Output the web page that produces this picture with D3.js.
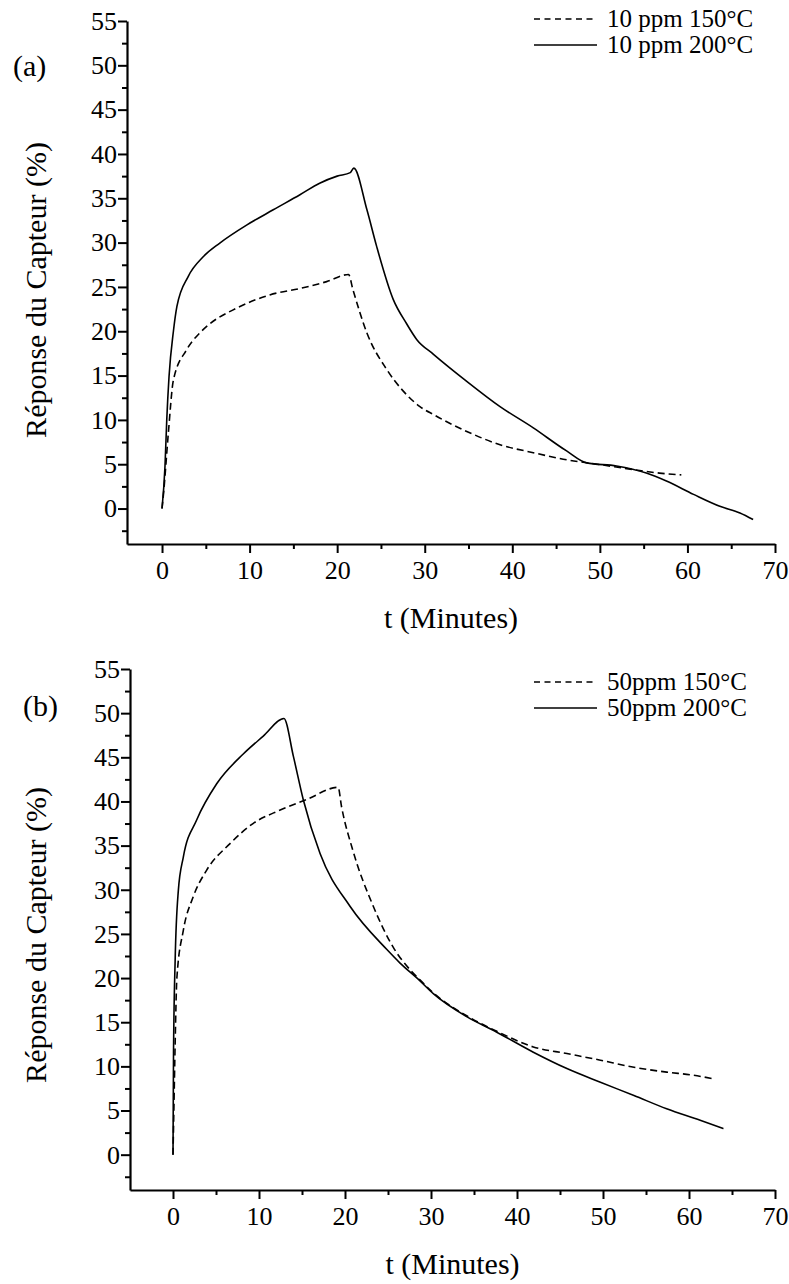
<!DOCTYPE html>
<html><head><meta charset="utf-8">
<script src="https://cdn.jsdelivr.net/npm/d3@7"></script>
<style>
body{margin:0;background:#fff;}
text{font-family:"Liberation Serif","Times New Roman",serif;fill:#000;}
</style></head>
<body><svg id="c" width="789" height="1284"></svg>
<script>
// ---- Panel (a): 10 ppm ----
const tA150 = [0,0.2,0.72,1.3,2.8,4.3,5.1,8.5,12.3,16.1,18.8,21.3,21.8,23.4,25.65,27.5,29.45,31.0,34.8,38.6,42.4,46.2,50.0,53.8,56.8,59.3];
const yA150 = [0,2,8.5,14.5,17.9,19.8,20.55,22.6,24.1,24.9,25.6,26.4,24.7,19.8,15.7,13.3,11.5,10.6,8.7,7.2,6.3,5.5,4.96,4.4,4.0,3.8];
const tA200 = [0,0.34,0.54,0.8,1.3,1.7,3.0,4.7,6.6,9.7,12.7,15.75,18.0,20.0,21.5,21.9,23.4,24.5,26.4,27.9,29.1,31.0,34.8,38.6,42.4,46.2,48.5,51.9,55.3,57.6,60.7,63.7,66.0,67.5];
const yA200 = [0,4.8,10,14.9,20,22.8,26.2,28.4,29.95,32.0,33.7,35.4,36.7,37.5,37.9,38.4,33.7,29.6,23.6,20.9,19.05,17.4,14.35,11.5,9.1,6.5,5.15,4.8,4.0,3.1,1.6,0.26,-0.5,-1.24];
// ---- Panel (b): 50 ppm ----
const tB150 = [0,0.1,0.25,0.45,1.2,2.35,3.9,6.6,9.3,12.4,15.5,19.2,19.6,20.9,23.3,25.6,27.6,28.6,30.3,34.2,37.6,41.9,45.8,49.7,53.6,57.4,60.5,62.8];
const yB150 = [0,5,12.6,20,25.4,29.2,32.2,35.2,37.5,39.0,40.2,41.6,39.4,34.5,28.1,23.5,20.9,19.9,18.3,15.7,14.0,12.2,11.45,10.7,9.9,9.35,9.0,8.6];
const tB200 = [0,0.06,0.25,0.62,1.2,2.75,5.08,8.2,10.5,12.9,14.0,15.15,17.1,20.6,24.9,26.4,28.6,30.3,34.2,37.6,41.9,45.8,49.7,53.6,57.4,61.3,64.0];
const yB200 = [0,11.5,22,29.9,33.7,37.9,42.0,45.4,47.4,49.4,45.1,40.2,34.1,28.1,23.2,21.7,19.8,18.2,15.6,13.9,11.6,9.75,8.2,6.7,5.2,3.9,2.95];

const yMajor = [0,5,10,15,20,25,30,35,40,45,50,55];
const yMinor = [-2.5,2.5,7.5,12.5,17.5,22.5,27.5,32.5,37.5,42.5,47.5,52.5];
const xMajor = [0,10,20,30,40,50,60,70];
const xMinor = [5,15,25,35,45,55,65];
const legendA = ["10 ppm 150°C","10 ppm 200°C"];
const legendB = ["50ppm 150°C","50ppm 200°C"];
const yTitle = "Réponse du Capteur (%)";
const xTitle = "t (Minutes)";
const FONT = '"Liberation Serif","Times New Roman",serif';

const svg = d3.select("#c");

function panel(cfg){
  const g = svg.append("g").style("font-family", FONT);
  const x = d3.scaleLinear().domain(cfg.xdom).range([cfg.x0, cfg.x1]);
  const y = d3.scaleLinear().domain([-4,55]).range([cfg.yb, cfg.yt]);
  // minor ticks
  g.append("g").attr("transform",`translate(0,${cfg.yb})`)
    .call(d3.axisBottom(x).tickValues(xMinor).tickSize(5).tickSizeOuter(0).tickFormat(""))
    .call(s=>{s.select(".domain").remove(); s.selectAll("line").attr("stroke-width",2);});
  g.append("g").attr("transform",`translate(${cfg.x0},0)`)
    .call(d3.axisLeft(y).tickValues(yMinor).tickSize(5).tickSizeOuter(0).tickFormat(""))
    .call(s=>{s.select(".domain").remove(); s.selectAll("line").attr("stroke-width",2);});
  // major
  const gx = g.append("g").attr("transform",`translate(0,${cfg.yb})`)
    .call(d3.axisBottom(x).tickValues(xMajor).tickSize(9).tickSizeOuter(0).tickPadding(8));
  gx.select(".domain").attr("stroke-width",2.2);
  gx.selectAll("line").attr("stroke-width",2);
  gx.selectAll("text").attr("font-size",26).attr("font-family",null).style("font-family",FONT).attr("dy","0.71em");
  const gy = g.append("g").attr("transform",`translate(${cfg.x0},0)`)
    .call(d3.axisLeft(y).tickValues(yMajor).tickSize(9).tickSizeOuter(0).tickPadding(1));
  gy.select(".domain").attr("stroke-width",2.2);
  gy.selectAll("line").attr("stroke-width",2);
  gy.selectAll("text").attr("font-size",26).attr("font-family",null).style("font-family",FONT);

  const line = d3.line().x(d=>x(d[0])).y(d=>y(d[1])).curve(d3.curveMonotoneX);
  g.append("path").datum(cfg.t150.map((t,i)=>[t,cfg.y150[i]]))
    .attr("d",line).attr("fill","none").attr("stroke","#000").attr("stroke-width",1.6)
    .attr("stroke-dasharray","7,4");
  g.append("path").datum(cfg.t200.map((t,i)=>[t,cfg.y200[i]]))
    .attr("d",line).attr("fill","none").attr("stroke","#000").attr("stroke-width",1.6);

  // titles
  g.append("text").attr("x",(cfg.x0+cfg.x1)/2).attr("y",cfg.yb+84)
    .attr("text-anchor","middle").attr("font-size",30).style("font-family",FONT).text(xTitle);
  g.append("text").attr("transform",`translate(46,${cfg.ytc}) rotate(-90)`)
    .attr("text-anchor","middle").attr("font-size",30).style("font-family",FONT).text(yTitle);
  g.append("text").attr("x",cfg.lx).attr("y",cfg.ly).attr("font-size",30).style("font-family",FONT).text(cfg.label);
  // legend
  cfg.legend.forEach((s,i)=>{
    const yy = cfg.legY + i*26;
    g.append("line").attr("x1",534).attr("x2",597).attr("y1",yy).attr("y2",yy)
      .attr("stroke","#000").attr("stroke-width",1.6).attr("stroke-dasharray",i===0?"6,4.5":null);
    g.append("text").attr("x",607).attr("y",yy+8).attr("font-size",25).style("font-family",FONT).text(s);
  });
}

panel({xdom:[-4,70], x0:127, x1:775, yt:21, yb:544, t150:tA150, y150:yA150, t200:tA200, y200:yA200,
  ytc:290, lx:13, ly:76, label:"(a)", legend:legendA, legY:19});
panel({xdom:[-5,70], x0:130, x1:775, yt:669, yb:1190, t150:tB150, y150:yB150, t200:tB200, y200:yB200,
  ytc:935, lx:23, ly:716, label:"(b)", legend:legendB, legY:682});
</script></body></html>
